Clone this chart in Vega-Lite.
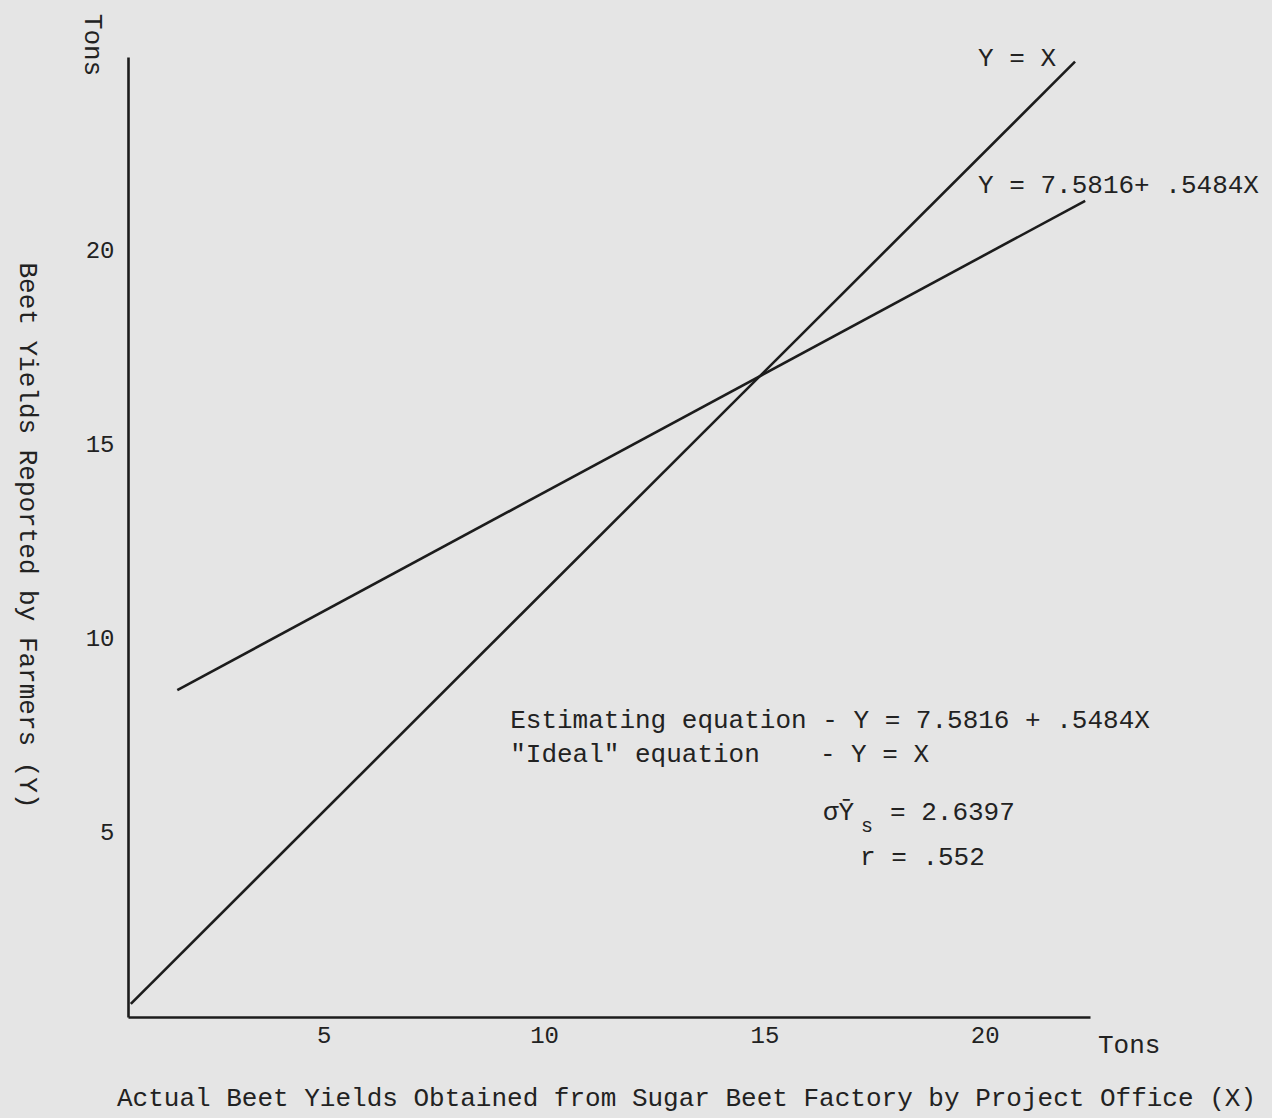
{
  "$schema": "https://vega.github.io/schema/vega-lite/v6.json",
  "width": 962,
  "height": 960,
  "autosize": {"type": "none"},
  "padding": {"left": 128, "top": 57, "right": 182, "bottom": 101},
  "background": "#e5e5e5",
  "config": {"view": {"stroke": null}, "font": "Nimbus Mono PS, Courier New, FreeMono, Liberation Mono"},
  "datasets": {
    "lines": [
      {"equation": "Y = X", "x": 0.62, "y": 0.58},
      {"equation": "Y = X", "x": 22.05, "y": 24.88},
      {"equation": "Y = 7.5816 + .5484X", "x": 1.675, "y": 8.67},
      {"equation": "Y = 7.5816 + .5484X", "x": 22.28, "y": 21.29}
    ],
    "notes": [
      {"label": "Y = X", "x": 19.85, "y": 24.97},
      {"label": "Y = 7.5816+ .5484X", "x": 19.85, "y": 21.70},
      {"label": "Estimating equation - Y = 7.5816 + .5484X", "x": 9.23, "y": 7.90},
      {"label": "\"Ideal\" equation", "x": 9.23, "y": 7.02},
      {"label": "- Y = X", "x": 16.26, "y": 7.02},
      {"label": "σȲ", "x": 16.33, "y": 5.53},
      {"label": "= 2.6397", "x": 17.85, "y": 5.53},
      {"label": "r = .552", "x": 17.17, "y": 4.37},
      {"label": "Tons", "x": 22.57, "y": -0.48}
    ],
    "subscript": [
      {"label": "s", "x": 17.19, "y": 5.17}
    ],
    "rotated": [
      {"label": "Tons", "x": -0.24, "y": 25.31}
    ]
  },
  "layer": [
    {
      "data": {"name": "lines"},
      "mark": {"type": "line", "color": "#1c1c1c", "strokeWidth": 2.6},
      "encoding": {
        "x": {
          "field": "x",
          "type": "quantitative",
          "scale": {"domain": [0.556, 22.39], "nice": false, "zero": false},
          "axis": {
            "values": [5, 10, 15, 20],
            "grid": false,
            "ticks": false,
            "domainColor": "#1c1c1c",
            "domainWidth": 2.6,
            "labelFont": "Nimbus Mono PS, Courier New, FreeMono, Liberation Mono",
            "labelFontSize": 24,
            "labelColor": "#222222",
            "labelPadding": 6,
            "title": "Actual Beet Yields Obtained from Sugar Beet Factory by Project Office (X)",
            "titleFont": "Nimbus Mono PS, Courier New, FreeMono, Liberation Mono",
            "titleFontSize": 26,
            "titleFontWeight": "normal",
            "titleColor": "#222222",
            "titleAlign": "center",
            "titleBaseline": "middle",
            "titleX": 558,
            "titleY": 80
          }
        },
        "y": {
          "field": "y",
          "type": "quantitative",
          "scale": {"domain": [0.24, 25.0], "nice": false, "zero": false},
          "axis": {
            "values": [5, 10, 15, 20],
            "grid": false,
            "ticks": false,
            "domainColor": "#1c1c1c",
            "domainWidth": 2.6,
            "labelFont": "Nimbus Mono PS, Courier New, FreeMono, Liberation Mono",
            "labelFontSize": 24,
            "labelColor": "#222222",
            "labelPadding": 14,
            "title": "Beet Yields Reported by Farmers (Y)",
            "titleFont": "Nimbus Mono PS, Courier New, FreeMono, Liberation Mono",
            "titleFontSize": 26,
            "titleFontWeight": "normal",
            "titleColor": "#222222",
            "titleAngle": 90,
            "titleAlign": "center",
            "titleBaseline": "middle",
            "titleX": -101,
            "titleY": 478
          }
        },
        "detail": {"field": "equation", "type": "nominal"}
      }
    },
    {
      "data": {"name": "notes"},
      "mark": {"type": "text", "align": "left", "baseline": "middle", "fontSize": 26, "font": "Nimbus Mono PS, Courier New, FreeMono, Liberation Mono", "color": "#222222"},
      "encoding": {
        "x": {"field": "x", "type": "quantitative"},
        "y": {"field": "y", "type": "quantitative"},
        "text": {"field": "label"}
      }
    },
    {
      "data": {"name": "subscript"},
      "mark": {"type": "text", "align": "left", "baseline": "middle", "fontSize": 20, "font": "Nimbus Mono PS, Courier New, FreeMono, Liberation Mono", "color": "#222222"},
      "encoding": {
        "x": {"field": "x", "type": "quantitative"},
        "y": {"field": "y", "type": "quantitative"},
        "text": {"field": "label"}
      }
    },
    {
      "data": {"name": "rotated"},
      "mark": {"type": "text", "align": "center", "baseline": "middle", "angle": 90, "fontSize": 26, "font": "Nimbus Mono PS, Courier New, FreeMono, Liberation Mono", "color": "#222222"},
      "encoding": {
        "x": {"field": "x", "type": "quantitative"},
        "y": {"field": "y", "type": "quantitative"},
        "text": {"field": "label"}
      }
    }
  ]
}
